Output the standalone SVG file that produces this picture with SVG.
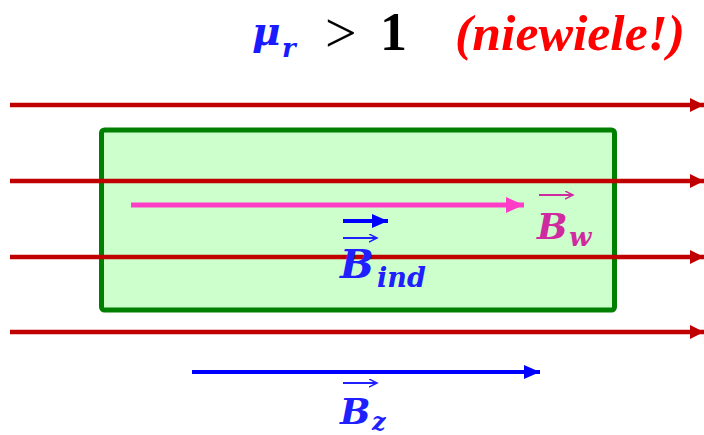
<svg xmlns="http://www.w3.org/2000/svg" width="704" height="435" viewBox="0 0 704 435">
<style>
.math{font-family:"DejaVu Serif","Liberation Serif",serif;font-weight:bold;font-style:italic}
.field{stroke:#C00000;stroke-width:4.5;fill:none}
.vec{stroke-width:2;fill:none}
</style>
<defs>
<marker id="hr" markerUnits="userSpaceOnUse" markerWidth="16" markerHeight="16" refX="14" refY="7" orient="auto"><path d="M0,0 L14,7 L0,14 Z" fill="#C00000"/></marker>
<marker id="hp" markerUnits="userSpaceOnUse" markerWidth="20" markerHeight="18" refX="18" refY="8" orient="auto"><path d="M0,0 L18,8 L0,16 Z" fill="#FF3CC8"/></marker>
<marker id="hb" markerUnits="userSpaceOnUse" markerWidth="18" markerHeight="16" refX="16" refY="7" orient="auto"><path d="M0,0 L16,7 L0,14 Z" fill="#0000FF"/></marker>
<marker id="hs" markerUnits="userSpaceOnUse" markerWidth="10" markerHeight="10" refX="8" refY="4" orient="auto"><path d="M0,0 L8,4 L0,8" fill="none" stroke="context-stroke" stroke-width="1.5"/></marker>
</defs>
<rect width="704" height="435" fill="#FFFFFF"/>
<g id="title">
<text x="252" y="45" class="math" font-size="39" fill="#1A1AFF">μ</text>
<text x="282" y="57" class="math" font-size="26" fill="#1A1AFF">r</text>
<text x="325" y="52" font-family="Liberation Serif,serif" font-size="56" fill="#000">&gt;</text>
<text x="380" y="50" font-family="Liberation Serif,serif" font-weight="bold" font-size="54" fill="#000">1</text>
<text x="455" y="50" font-family="Liberation Serif,serif" font-weight="bold" font-style="italic" font-size="50" fill="#FF0000" textLength="230" lengthAdjust="spacingAndGlyphs">(niewiele!)</text>
</g>
<g id="material">
<rect x="101.5" y="130" width="513" height="180" rx="3" fill="#CCFFCC" stroke="#008000" stroke-width="5"/>
</g>
<g id="connectors">
<line class="field" x1="10" y1="105" x2="704" y2="105" marker-end="url(#hr)"/>
<line class="field" x1="10" y1="181" x2="704" y2="181" marker-end="url(#hr)"/>
<line class="field" x1="10" y1="257" x2="704" y2="257" marker-end="url(#hr)"/>
<line class="field" x1="10" y1="332" x2="704" y2="332" marker-end="url(#hr)"/>
<line x1="131" y1="205" x2="524" y2="205" stroke="#FF3CC8" stroke-width="5" marker-end="url(#hp)"/>
<line x1="343" y1="221" x2="388" y2="221" stroke="#0000FF" stroke-width="4" marker-end="url(#hb)"/>
<line x1="192" y1="372" x2="540" y2="372" stroke="#0000FF" stroke-width="4" marker-end="url(#hb)"/>
</g>
<g id="label-Bw">
<line class="vec" x1="539" y1="195" x2="573" y2="195" stroke="#D02AA0" marker-end="url(#hs)"/>
<text x="537" y="239" class="math" font-size="36" fill="#D02AA0">B</text>
<text x="569" y="246" class="math" font-size="26" fill="#D02AA0">w</text>
</g>
<g id="label-Bind">
<line class="vec" x1="343" y1="238" x2="377" y2="238" stroke="#2020FF" marker-end="url(#hs)"/>
<text x="340" y="278" class="math" font-size="40" fill="#2020FF">B</text>
<text x="377" y="287" class="math" font-size="27" fill="#2020FF">ind</text>
</g>
<g id="label-Bz">
<line class="vec" x1="343" y1="383" x2="377" y2="383" stroke="#2020FF" marker-end="url(#hs)"/>
<text x="340" y="424" class="math" font-size="36" fill="#2020FF">B</text>
<text x="372" y="430" class="math" font-size="24" fill="#2020FF">z</text>
</g>
</svg>
